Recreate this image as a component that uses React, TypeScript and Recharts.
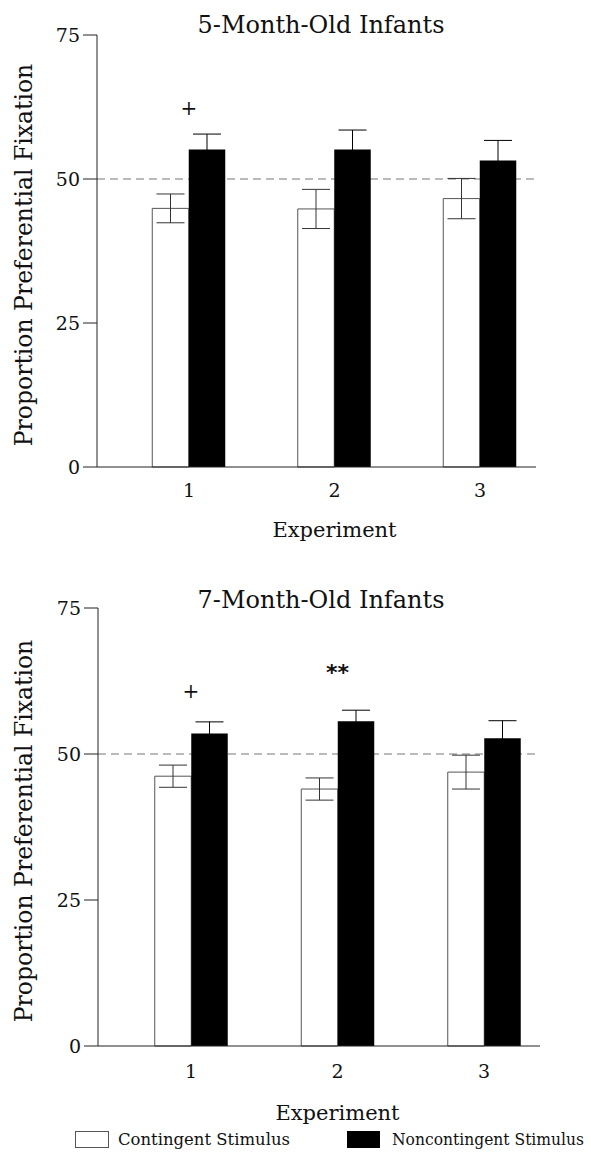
import React from "react";
import {
  BarChart,
  Bar,
  XAxis,
  YAxis,
  CartesianGrid,
  ReferenceDot,
  ErrorBar,
  Label,
} from "recharts";

const FONT = "'DejaVu Serif', serif";

const experiments = ["1", "2", "3"];
const yTicks = [0, 25, 50, 75];
const chanceLevel = [50];

// 5-month-old infants
const contingent5 = [44.9, 44.8, 46.6];
const contingent5Err = [2.5, 3.4, 3.5];
const noncontingent5 = [55.1, 55.1, 53.2];
const noncontingent5Err = [2.7, 3.4, 3.5];
const marks5 = ["+", "", ""];
const markY5 = [62.3, 0, 0];

// 7-month-old infants
const contingent7 = [46.2, 44.0, 46.9];
const contingent7Err = [1.9, 1.9, 2.9];
const noncontingent7 = [53.5, 55.6, 52.7];
const noncontingent7Err = [2.0, 1.9, 3.0];
const marks7 = ["+", "**", ""];
const markY7 = [60.8, 64.0, 0];

const buildRows = (
  cont: number[],
  contErr: number[],
  non: number[],
  nonErr: number[]
) =>
  experiments.map((name, i) => ({
    name,
    contingent: cont[i],
    contingentErr: contErr[i],
    noncontingent: non[i],
    noncontingentErr: nonErr[i],
  }));

interface PanelProps {
  top: number;
  height: number;
  rows: any[];
  marks: string[];
  markY: number[];
  plotTop: number;
  plotBottom: number;
  axisX: number;
  axisRight: number;
  padLeft: number;
  padRight: number;
  tickGap: number;
  labelGap: number;
}

const X_AXIS_HEIGHT = 80;

function Panel({
  top,
  height,
  rows,
  marks,
  markY,
  plotTop,
  plotBottom,
  axisX,
  axisRight,
  padLeft,
  padRight,
  tickGap,
  labelGap,
}: PanelProps) {
  return (
    <div style={{ position: "absolute", left: 0, top }}>
      <BarChart
        width={591}
        height={height}
        data={rows}
        margin={{
          top: plotTop,
          right: 591 - axisRight,
          bottom: height - plotBottom - X_AXIS_HEIGHT,
          left: 0,
        }}
        barGap={0}
        barSize={36.5}
      >
        {/* dashed chance line, kept behind the bars */}
        <CartesianGrid
          vertical={false}
          horizontalValues={chanceLevel}
          stroke="#777"
          strokeDasharray="8 5"
        />
        <XAxis
          dataKey="name"
          height={X_AXIS_HEIGHT}
          padding={{ left: padLeft, right: padRight }}
          axisLine={{ stroke: "#222" }}
          tickLine={false}
          tickSize={0}
          tickMargin={tickGap}
          tick={{ fill: "#111", fontSize: 19, fontFamily: FONT }}
        >
          <Label
            content={(p: any) => {
              const vb = p.viewBox;
              const cx = vb.x + padLeft + (vb.width - padLeft - padRight) / 2;
              return (
                <text
                  x={cx}
                  y={vb.y + labelGap}
                  textAnchor="middle"
                  fontSize={21}
                  fontFamily={FONT}
                  fill="#111"
                >
                  Experiment
                </text>
              );
            }}
          />
        </XAxis>
        <YAxis
          width={axisX}
          domain={[0, 75]}
          ticks={yTicks}
          interval={0}
          axisLine={{ stroke: "#222" }}
          tickLine={{ stroke: "#222" }}
          tickSize={14}
          tickMargin={3}
          tick={{ fill: "#111", fontSize: 19, fontFamily: FONT }}
        >
          <Label
            content={(p: any) => {
              const vb = p.viewBox;
              const x = 24;
              const y = vb.y + vb.height / 2 + 4;
              return (
                <text
                  x={x}
                  y={y}
                  transform={`rotate(-90 ${x} ${y})`}
                  textAnchor="middle"
                  dominantBaseline="central"
                  fontSize={23.5}
                  fontFamily={FONT}
                  fill="#111"
                >
                  Proportion Preferential Fixation
                </text>
              );
            }}
          />
        </YAxis>
        <Bar
          dataKey="contingent"
          fill="#fff"
          stroke="#555"
          strokeWidth={1}
          isAnimationActive={false}
        >
          <ErrorBar
            dataKey="contingentErr"
            width={14}
            stroke="#333"
            strokeWidth={1}
            isAnimationActive={false}
          />
        </Bar>
        <Bar dataKey="noncontingent" fill="#000" isAnimationActive={false}>
          <ErrorBar
            dataKey="noncontingentErr"
            width={14}
            stroke="#000"
            strokeWidth={1}
            isAnimationActive={false}
          />
        </Bar>
        {marks.map((m, i) =>
          m ? (
            <ReferenceDot
              key={i}
              x={experiments[i]}
              y={markY[i]}
              r={0}
              shape={(s: any) => (
                <text
                  x={s.cx}
                  y={s.cy}
                  textAnchor="middle"
                  dominantBaseline="central"
                  fontSize={m === "+" ? 20 : 22}
                  fontFamily={m === "+" ? FONT : "'DejaVu Sans', sans-serif"}
                  fontWeight={m === "+" ? 400 : 700}
                  fill="#111"
                >
                  {m}
                </text>
              )}
            />
          ) : null
        )}
      </BarChart>
    </div>
  );
}

export default function App() {
  const rows5 = buildRows(contingent5, contingent5Err, noncontingent5, noncontingent5Err);
  const rows7 = buildRows(contingent7, contingent7Err, noncontingent7, noncontingent7Err);
  return (
    <div
      style={{
        position: "absolute",
        left: 0,
        top: 0,
        width: 591,
        height: 1152,
        background: "#fff",
        overflow: "hidden",
      }}
    >
      <Panel
        top={0}
        height={560}
        rows={rows5}
        marks={marks5}
        markY={markY5}
        plotTop={35}
        plotBottom={467}
        axisX={97}
        axisRight={536}
        padLeft={19.25}
        padRight={-16.75}
        tickGap={17}
        labelGap={70}
      />
      <Panel
        top={575}
        height={560}
        rows={rows7}
        marks={marks7}
        markY={markY7}
        plotTop={33}
        plotBottom={471}
        axisX={98}
        axisRight={540}
        padLeft={19.75}
        padRight={-17.25}
        tickGap={19}
        labelGap={74}
      />
      <svg
        width={591}
        height={1152}
        style={{ position: "absolute", left: 0, top: 0, pointerEvents: "none" }}
      >
        <text x={321} y={33} textAnchor="middle" fontSize={24} fontFamily={FONT} fill="#111">
          5-Month-Old Infants
        </text>
        <text x={321} y={608} textAnchor="middle" fontSize={24} fontFamily={FONT} fill="#111">
          7-Month-Old Infants
        </text>
        <rect x={75.5} y={1131.5} width={33} height={16} fill="#fff" stroke="#555" />
        <text
          x={118}
          y={1145}
          fontSize={16}
          fontFamily={FONT}
          fill="#111"
          textLength={172}
          lengthAdjust="spacingAndGlyphs"
        >
          Contingent Stimulus
        </text>
        <rect x={347} y={1131} width={33} height={17} fill="#000" />
        <text
          x={392}
          y={1145}
          fontSize={16}
          fontFamily={FONT}
          fill="#111"
          textLength={192}
          lengthAdjust="spacingAndGlyphs"
        >
          Noncontingent Stimulus
        </text>
      </svg>
    </div>
  );
}
